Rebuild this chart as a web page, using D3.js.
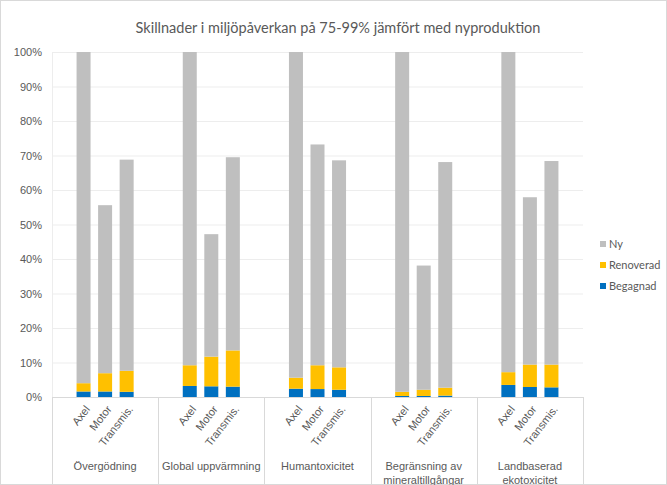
<!DOCTYPE html>
<html>
<head>
<meta charset="utf-8">
<script src="https://cdn.jsdelivr.net/npm/d3@7"></script>
<style>
  body { margin: 0; background: #fff; }
  svg { display: block; }
</style>
</head>
<body>
<div id="chart"></div>
<script>
// data (percent)
const categories = [["Övergödning"], ["Global uppvärmning"], ["Humantoxicitet"],
                    ["Begränsning av", "mineraltillgångar"], ["Landbaserad", "ekotoxicitet"]];
const parts = ["Axel", "Motor", "Transmis."];
const seriesNames = ["Begagnad", "Renoverad", "Ny"];
const begagnad  = [[1.6, 1.6, 1.5], [3.2, 3.1, 3.0], [2.4, 2.3, 2.1], [0.3, 0.3, 0.4], [3.5, 2.9, 2.8]];
const renoverad = [[2.4, 5.3, 6.1], [6.0, 8.6, 10.5], [3.2, 6.9, 6.5], [1.2, 1.8, 2.3], [3.7, 6.5, 6.6]];
const ny        = [[96.0, 48.7, 61.2], [90.8, 35.5, 56.0], [94.4, 64.0, 60.0], [98.5, 36.0, 65.4], [92.8, 48.5, 59.0]];
const yTicks = [0, 10, 20, 30, 40, 50, 60, 70, 80, 90, 100];

const colors = { "Begagnad": "#0070C0", "Renoverad": "#FFC000", "Ny": "#BFBFBF" };

const width = 667, height = 485;
const plot = { left: 52, right: 583, top: 52, bottom: 397 };
const textColor = "#595959";

const svg = d3.select("#chart").append("svg")
    .attr("width", width)
    .attr("height", height);

svg.append("rect")
    .attr("x", 0.5).attr("y", 0.5)
    .attr("width", width - 1).attr("height", height - 1)
    .attr("fill", "#fff")
    .attr("stroke", "#D9D9D9");

// title
svg.append("text")
    .attr("x", 338).attr("y", 33)
    .attr("text-anchor", "middle")
    .attr("font-family", "Lato, 'Open Sans', sans-serif")
    .attr("font-size", 14.5)
    .attr("fill", textColor)
    .text("Skillnader i miljöpåverkan på 75-99% jämfört med nyproduktion");

let catKeys = categories.map(c => c.join(" "));

let x0 = d3.scaleBand().domain(catKeys).range([plot.left, plot.right]).padding(0);
let x1 = d3.scaleBand().domain(parts).range([0, x0.bandwidth()])
    .paddingInner(0.35).paddingOuter(1.14);
let y = d3.scaleLinear().domain([0, 100]).range([plot.bottom, plot.top]);

// gridlines
svg.append("g")
    .selectAll("line")
    .data(yTicks.slice(1))
    .join("line")
    .attr("x1", plot.left).attr("x2", plot.right)
    .attr("y1", d => y(d) + 0.5).attr("y2", d => y(d) + 0.5)
    .attr("stroke", "#EDEDED");

// faint value axis line
svg.append("line")
    .attr("x1", plot.left + 0.5).attr("x2", plot.left + 0.5)
    .attr("y1", plot.top).attr("y2", plot.bottom)
    .attr("stroke", "#EDEDED");

// y axis labels
let yAxis = svg.append("g")
    .attr("transform", `translate(${plot.left},0)`)
    .call(d3.axisLeft(y).tickValues(yTicks).tickFormat(d => d + "%").tickSize(0).tickPadding(10));
yAxis.select(".domain").remove();
yAxis.selectAll("text")
    .attr("font-family", "'Liberation Sans', Arial, sans-serif")
    .attr("font-size", 11)
    .attr("fill", textColor);

// build stacked rows
let rows = [];
catKeys.forEach((c, i) => {
    parts.forEach((p, j) => {
        rows.push({ cat: c, part: p, Begagnad: begagnad[i][j], Renoverad: renoverad[i][j], Ny: ny[i][j] });
    });
});
let stacked = d3.stack().keys(seriesNames)(rows);

svg.append("g")
    .selectAll("g")
    .data(stacked)
    .join("g")
    .attr("fill", d => colors[d.key])
    .selectAll("rect")
    .data(d => d)
    .join("rect")
    .attr("x", d => x0(d.data.cat) + x1(d.data.part))
    .attr("width", x1.bandwidth())
    .attr("y", d => y(d[1]))
    .attr("height", d => y(d[0]) - y(d[1]));

// x axis line
svg.append("line")
    .attr("x1", plot.left).attr("x2", plot.right)
    .attr("y1", plot.bottom + 0.5).attr("y2", plot.bottom + 0.5)
    .attr("stroke", "#D9D9D9");

// group separators
let edges = catKeys.map(c => x0(c)).concat([plot.right]);
svg.append("g")
    .selectAll("line")
    .data(edges)
    .join("line")
    .attr("x1", d => Math.round(d) + 0.5).attr("x2", d => Math.round(d) + 0.5)
    .attr("y1", plot.bottom).attr("y2", height)
    .attr("stroke", "#D9D9D9");

// rotated part labels
let partLabels = svg.append("g");
catKeys.forEach(c => {
    parts.forEach(p => {
        let cx = x0(c) + x1(p) + x1.bandwidth() / 2;
        partLabels.append("text")
            .attr("transform", `translate(${cx + 4},${plot.bottom + 10}) rotate(-52)`)
            .attr("text-anchor", "end")
            .attr("dy", "0.35em")
            .attr("font-family", "'Liberation Sans', Arial, sans-serif")
            .attr("font-size", 11)
            .attr("fill", textColor)
            .text(p);
    });
});

// group labels
categories.forEach((lines, i) => {
    let cx = x0(catKeys[i]) + x0.bandwidth() / 2;
    let t = svg.append("text")
        .attr("x", cx).attr("y", 470)
        .attr("text-anchor", "middle")
        .attr("font-family", "'Liberation Sans', Arial, sans-serif")
        .attr("font-size", 11)
        .attr("fill", textColor);
    lines.forEach((l, k) => {
        t.append("tspan").attr("x", cx).attr("dy", k === 0 ? 0 : 13.5).text(l);
    });
});

// legend
let legend = svg.append("g")
    .attr("transform", "translate(600,244)");
let legendOrder = ["Ny", "Renoverad", "Begagnad"];
legendOrder.forEach((k, i) => {
    let g = legend.append("g").attr("transform", `translate(0,${i * 21})`);
    g.append("rect")
        .attr("x", 0).attr("y", -3)
        .attr("width", 6).attr("height", 6)
        .attr("fill", colors[k]);
    g.append("text")
        .attr("x", 9).attr("y", 0)
        .attr("dy", "0.35em")
        .attr("font-family", "Lato, 'Open Sans', sans-serif")
        .attr("font-size", 11)
        .attr("fill", textColor)
        .text(k);
});
</script>
</body>
</html>
